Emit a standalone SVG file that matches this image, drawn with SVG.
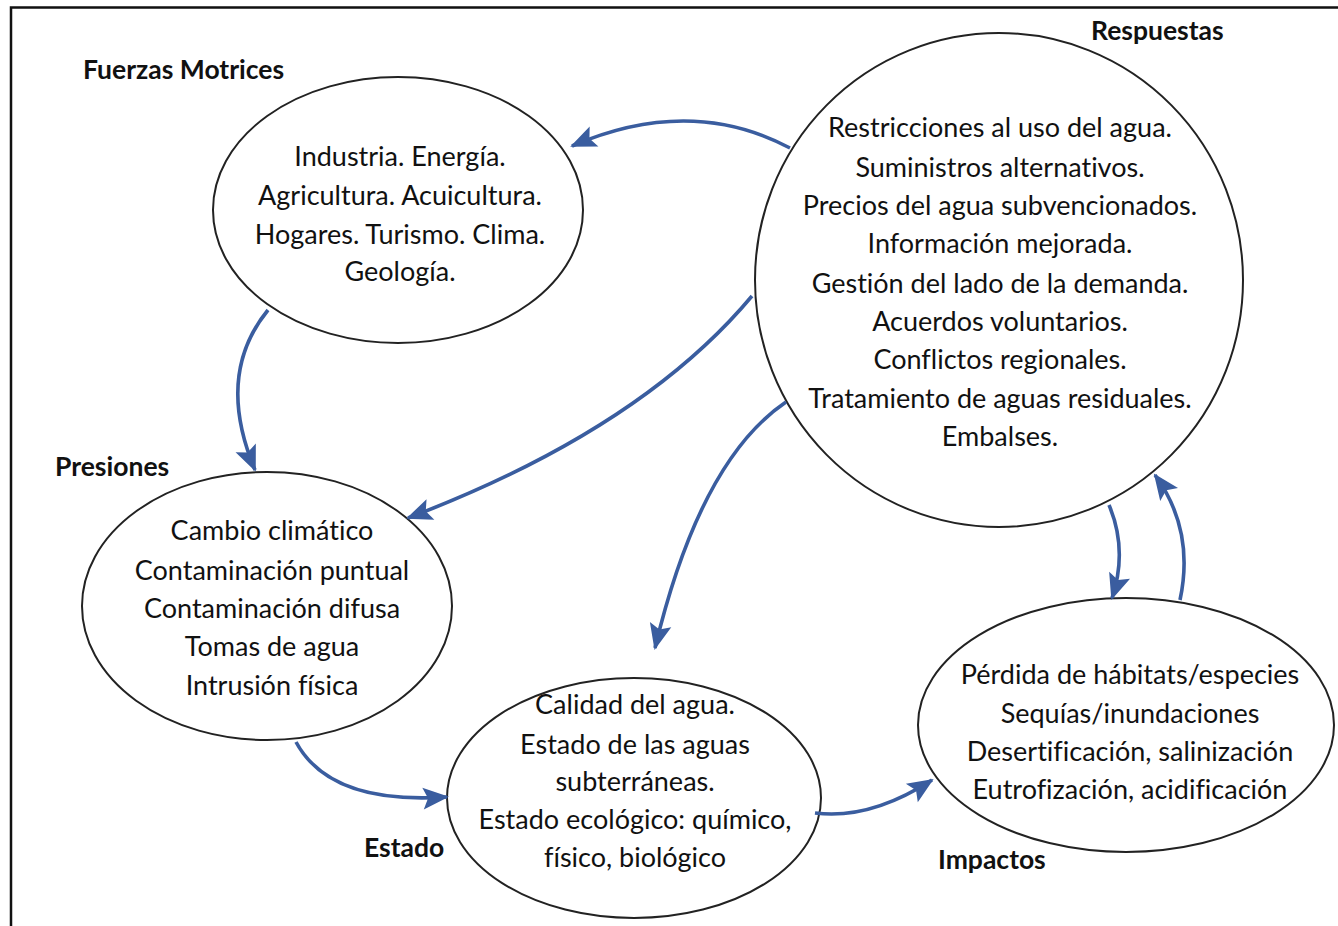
<svg xmlns="http://www.w3.org/2000/svg" width="1338" height="926" viewBox="0 0 1338 926">
<style>
.node{fill:#fff;stroke:#222;stroke-width:2}
.t{font-family:Lato,"Liberation Sans",sans-serif;font-size:27px;fill:#111;text-anchor:middle;font-variant-ligatures:none}
.lbl{font-family:Lato,"Liberation Sans",sans-serif;font-size:26.5px;font-weight:bold;fill:#111}
.c{fill:none;stroke:#3A5D9F;stroke-width:3.6;marker-end:url(#ah)}
</style>
<defs>
<marker id="ah" viewBox="-26 -13 29 26" refX="0" refY="0" markerWidth="29" markerHeight="26" markerUnits="userSpaceOnUse" orient="auto">
<path d="M2,0 L-24,-11 L-19,0 L-24,11 z" fill="#3A5D9F"/>
</marker>
</defs>
<rect width="1338" height="926" fill="#fff"/>
<path d="M11,926 V7.5 H1338" fill="none" stroke="#111" stroke-width="2.5"/>
<g id="fuerzas">
<ellipse class="node" cx="398" cy="210" rx="185" ry="133"/>
<text class="t" x="400" y="166">Industria. Energía.</text>
<text class="t" x="400" y="205">Agricultura. Acuicultura.</text>
<text class="t" x="400" y="244">Hogares. Turismo. Clima.</text>
<text class="t" x="400" y="281">Geología.</text>
<text class="lbl" x="83" y="79">Fuerzas Motrices</text>
</g>
<g id="respuestas">
<ellipse class="node" cx="999" cy="280" rx="244" ry="247"/>
<text class="t" x="1000" y="137">Restricciones al uso del agua.</text>
<text class="t" x="1000" y="177">Suministros alternativos.</text>
<text class="t" x="1000" y="215">Precios del agua subvencionados.</text>
<text class="t" x="1000" y="253">Información mejorada.</text>
<text class="t" x="1000" y="293">Gestión del lado de la demanda.</text>
<text class="t" x="1000" y="331">Acuerdos voluntarios.</text>
<text class="t" x="1000" y="369">Conflictos regionales.</text>
<text class="t" x="1000" y="408">Tratamiento de aguas residuales.</text>
<text class="t" x="1000" y="446">Embalses.</text>
<text class="lbl" x="1091" y="40">Respuestas</text>
</g>
<g id="presiones">
<ellipse class="node" cx="267" cy="606" rx="185" ry="134"/>
<text class="t" x="272" y="540">Cambio climático</text>
<text class="t" x="272" y="580">Contaminación puntual</text>
<text class="t" x="272" y="618">Contaminación difusa</text>
<text class="t" x="272" y="656">Tomas de agua</text>
<text class="t" x="272" y="695">Intrusión física</text>
<text class="lbl" x="55" y="476">Presiones</text>
</g>
<g id="estado">
<ellipse class="node" cx="634" cy="798" rx="187" ry="120"/>
<text class="t" x="635" y="714">Calidad del agua.</text>
<text class="t" x="635" y="754">Estado de las aguas</text>
<text class="t" x="635" y="791">subterráneas.</text>
<text class="t" x="635" y="829">Estado ecológico: químico,</text>
<text class="t" x="635" y="867">físico, biológico</text>
<text class="lbl" x="364" y="857">Estado</text>
</g>
<g id="impactos">
<ellipse class="node" cx="1126" cy="725" rx="208" ry="127"/>
<text class="t" x="1130" y="684">Pérdida de hábitats/especies</text>
<text class="t" x="1130" y="723">Sequías/inundaciones</text>
<text class="t" x="1130" y="761">Desertificación, salinización</text>
<text class="t" x="1130" y="799">Eutrofización, acidificación</text>
<text class="lbl" x="938" y="869">Impactos</text>
</g>
<g id="connectors">
<path class="c" d="M790,148 Q690,95 572,146"/>
<path class="c" d="M268,310 Q215,375 255,470"/>
<path class="c" d="M752,296 Q640,430 408,518"/>
<path class="c" d="M786,402 Q700,460 655,648"/>
<path class="c" d="M1109,505 Q1128,550 1112,598"/>
<path class="c" d="M1180,600 Q1195,530 1155,475"/>
<path class="c" d="M296,742 Q330,805 447,797"/>
<path class="c" d="M815,813 Q870,820 932,780"/>
</g>
</svg>
